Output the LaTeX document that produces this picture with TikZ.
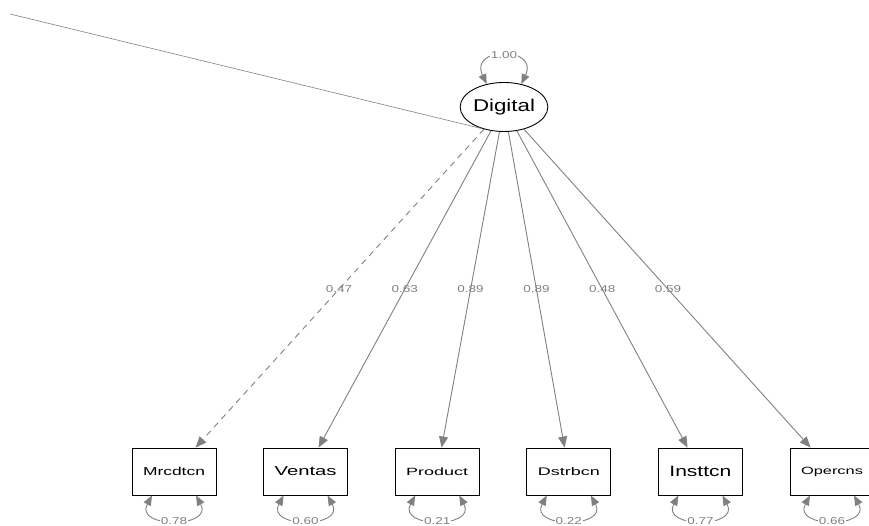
\documentclass[tikz,border=0pt]{standalone}
\usepackage{fontspec}
\setmainfont{Liberation Sans}
\usepackage{graphicx}
\usetikzlibrary{shapes.geometric,arrows.meta,calc}
\definecolor{edgegray}{HTML}{808080}
\newcommand{\boxtxt}[2]{\resizebox{62pt}{\height}{\fontsize{#1}{#1}\selectfont #2}}
\newcommand{\coeftxt}[1]{\scalebox{1.35}[1]{\fontsize{10}{10}\selectfont #1}}
\tikzset{
  obs/.style={draw=black, line width=0.9pt, minimum width=84pt, minimum height=47pt, inner sep=0pt, fill=white},
  lat/.style={ellipse, draw=black, line width=0.9pt, minimum width=86pt, minimum height=49pt, inner sep=0pt, fill=white},
  load/.style={draw=edgegray, line width=0.9pt, -{Triangle[length=11pt,width=9pt]}},
  selfloop/.style={draw=edgegray, line width=0.9pt, {Triangle[length=10pt,width=8pt]}-{Triangle[length=10pt,width=8pt]}},
  coef/.style={text=edgegray, inner sep=1pt},
  varlbl/.style={text=edgegray, fill=white, inner sep=1pt},
  thinedge/.style={draw=edgegray, line width=0.6pt}
}
\begin{document}
\begin{tikzpicture}[x=1pt,y=-1pt]
\useasboundingbox (0,0) rectangle (869,526);
% nodes
\node[lat] (dig) at (504,107) {\boxtxt{17}{Digital}};
\node[obs] (m1) at (174,471.5) {\boxtxt{11.5}{Mrcdtcn}};
\node[obs] (m2) at (305.6,471.5) {\boxtxt{13}{Ventas}};
\node[obs] (m3) at (437.2,471.5) {\boxtxt{10.5}{Product}};
\node[obs] (m4) at (568.8,471.5) {\boxtxt{11}{Dstrbcn}};
\node[obs] (m5) at (700.4,471.5) {\boxtxt{15}{Insttcn}};
\node[obs] (m6) at (832,471.5) {\boxtxt{10.5}{Opercns}};
% free line
\coordinate (tl) at (10,14);
\draw[thinedge] (tl) -- (dig.224);
% loadings
\draw[load, dash pattern=on 6pt off 5pt] (dig) -- (m1);
\draw[load] (dig) -- (m2);
\draw[load] (dig) -- (m3);
\draw[load] (dig) -- (m4);
\draw[load] (dig) -- (m5);
\draw[load] (dig) -- (m6);
\node[coef] (c1) at ($(dig)!0.5!(m1)$) {\coeftxt{0.47}};
\node[coef] (c2) at ($(dig)!0.5!(m2)$) {\coeftxt{0.63}};
\node[coef] (c3) at ($(dig)!0.5!(m3)$) {\coeftxt{0.89}};
\node[coef] (c4) at ($(dig)!0.5!(m4)$) {\coeftxt{0.89}};
\node[coef] (c5) at ($(dig)!0.5!(m5)$) {\coeftxt{0.48}};
\node[coef] (c6) at ($(dig)!0.5!(m6)$) {\coeftxt{0.59}};
% latent variance loop
\draw[selfloop] (dig.127) .. controls +(-18,-38) and +(18,-38) .. (dig.53);
\node[varlbl] (vd) at ($(dig.north)+(0,-27)$) {\coeftxt{1.00}};
% residual loops
\foreach \n/\v in {m1/0.78, m2/0.60, m3/0.21, m4/0.22, m5/0.77, m6/0.66}{
  \draw[selfloop] ($(\n.south)+(-22,0)$) .. controls +(-18,33) and +(18,33) .. ($(\n.south)+(22,0)$);
  \node[varlbl] (v\n) at ($(\n.south)+(0,25.5)$) {\coeftxt{\v}};
}
\end{tikzpicture}
\end{document}
